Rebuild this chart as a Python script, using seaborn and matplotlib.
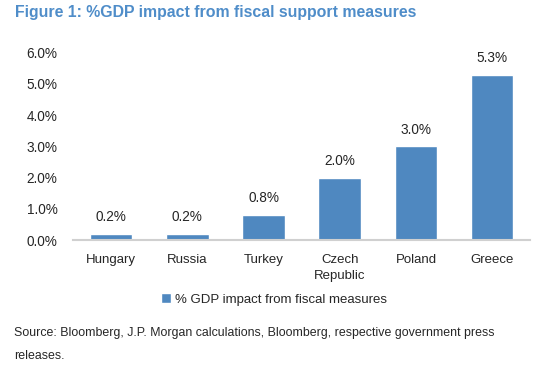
import numpy as np
import matplotlib
matplotlib.use("Agg")
import matplotlib.pyplot as plt
import seaborn as sns
import pandas as pd

countries = ["Hungary", "Russia", "Turkey", "Czech\nRepublic", "Poland", "Greece"]
impact = [0.2, 0.2, 0.8, 2.0, 3.0, 5.3]
yticks = [0, 1, 2, 3, 4, 5, 6]
series_name = "% GDP impact from fiscal measures"

df = pd.DataFrame({"country": countries, "impact": impact, "series": series_name})

sns.set_style("white")
plt.rcParams["font.family"] = ["Liberation Sans", "DejaVu Sans"]

bar_color = "#4F88C0"

fig = plt.figure(figsize=(5.57, 3.71), dpi=100)
ax = fig.add_axes([0.131, 0.353, 0.821, 0.505])

sns.barplot(data=df, x="country", y="impact", hue="series", palette=[bar_color],
            width=0.56, saturation=1, ax=ax, legend=True)

ax.set_ylim(0, 6)
ax.set_xlim(-0.5, len(countries) - 0.5)
ax.set_yticks(yticks)
ax.set_yticklabels([f"{v:.1f}%" for v in yticks], fontsize=9.8)
ax.tick_params(axis="y", length=0, pad=11)
ax.set_xlabel("")
ax.set_ylabel("")

# category separators on the x axis
ax.set_xticks(np.arange(len(countries)))
ax.set_xticklabels(countries, fontsize=9.5, linespacing=1.45)
ax.tick_params(axis="x", length=0, pad=10)
ax.set_xticks(np.arange(len(countries) + 1) - 0.5, minor=True)
ax.tick_params(axis="x", which="minor", length=4, color="#D0D0D0", width=1)

for s in ["top", "right", "left"]:
    ax.spines[s].set_visible(False)
ax.spines["bottom"].set_color("#D0D0D0")
ax.spines["bottom"].set_linewidth(1.5)

for i, v in enumerate(impact):
    ax.annotate(f"{v:.1f}%", (i, v), xytext=(0, 7), textcoords="offset points",
                ha="center", va="bottom", fontsize=9.8)

leg = ax.legend(loc="upper center", bbox_to_anchor=(0.44, -0.22), frameon=False,
                fontsize=9.5, handlelength=0.8, handleheight=0.8, handletextpad=0.3)

fig.text(0.027, 0.965, "Figure 1: %GDP impact from fiscal support measures",
         fontsize=11.4, fontweight="bold", color="#4F8DC9", va="center")
fig.text(0.025, 0.102, "Source: Bloomberg, J.P. Morgan calculations, Bloomberg, respective government press",
         fontsize=8.9, va="center")
fig.text(0.025, 0.04, "releases.", fontsize=8.9, va="center")

fig.savefig("out.png", dpi=100)
